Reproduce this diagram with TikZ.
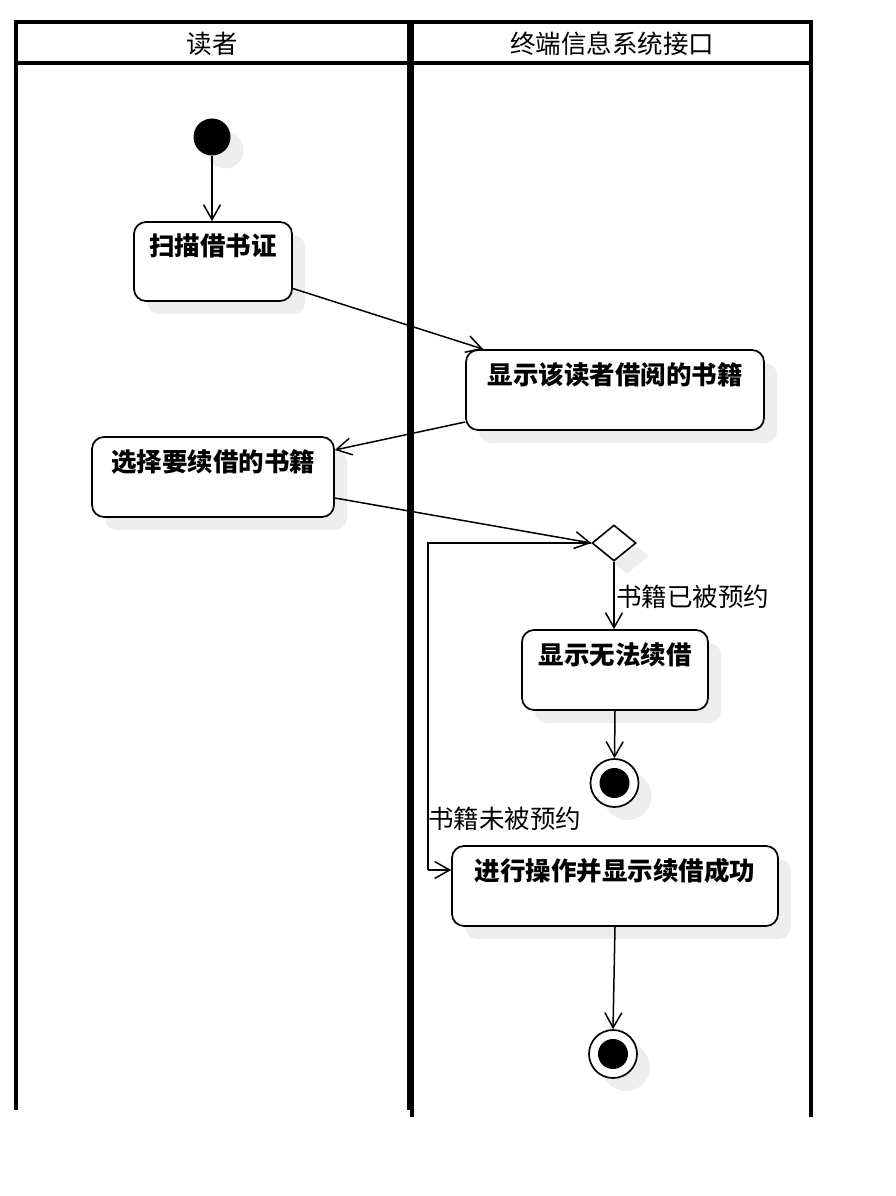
\documentclass[tikz,border=0pt]{standalone}
\usepackage{fontspec}
\setmainfont{Noto Sans CJK SC}
\usetikzlibrary{arrows.meta,shapes.geometric,shadows,calc}

\begin{document}
\begin{tikzpicture}[x=1pt,y=-1pt,
  lane/.style={line width=3.2pt},
  shade/.style={drop shadow={shadow xshift=13pt,shadow yshift=-13pt,fill=black!7,opacity=1}},
  act/.style={draw,rectangle,rounded corners=12pt,line width=1.7pt,fill=white,shade,inner sep=0pt},
  acttext/.style={font=\bfseries\fontsize{25.5}{28}\selectfont,anchor=north,yshift=-9.5pt},
  flow/.style={line width=1.5pt,-{Straight Barb[length=15pt,width=17pt,line width=1.5pt]}},
  plain/.style={line width=1.5pt},
  guard/.style={font=\fontsize{25.5}{28}\selectfont,inner sep=1pt},
  head/.style={font=\fontsize{25.5}{28}\selectfont},
  startnode/.style={circle,fill=black,minimum size=37pt,inner sep=0pt,drop shadow={shadow xshift=13pt,shadow yshift=-13pt,fill=black!7,opacity=1}},
  endnode/.style={circle,draw,line width=1.7pt,fill=white,minimum size=48pt,inner sep=0pt,shade},
  choice/.style={diamond,draw,line width=1.6pt,fill=white,minimum width=44pt,minimum height=36pt,inner sep=0pt,shape aspect=1.22,shade}]

\useasboundingbox (0,0) rectangle (896,1196);

% swimlanes
\draw[lane] (16,1110) -- (16,22) -- (409,22) -- (409,1110);
\draw[lane] (16,63) -- (409,63);
\draw[lane] (412,1117) -- (412,22) -- (811,22) -- (811,1117);
\draw[lane] (412,63) -- (811,63);
\node[head] (laneA) at (212,44) {读者};
\node[head] (laneB) at (612,44) {终端信息系统接口};

% activities
\node[startnode] (init) at (212,137) {};
\node[act,minimum width=158pt,minimum height=79pt] (scan) at (213,261.5) {};
\node[acttext] at (scan.north) {扫描借书证};
\node[act,minimum width=298pt,minimum height=80pt] (show) at (615,390) {};
\node[acttext] at (show.north) {显示该读者借阅的书籍};
\node[act,minimum width=242pt,minimum height=80pt] (pick) at (213,477) {};
\node[acttext] at (pick.north) {选择要续借的书籍};
\node[choice] (dia) at (614,543) {};
\node[act,minimum width=186pt,minimum height=80pt] (fail) at (615,670) {};
\node[acttext] at (fail.north) {显示无法续借};
\node[endnode] (fin1) at (614.5,783) {};
\fill (fin1) circle (15);
\node[act,minimum width=326pt,minimum height=80pt] (ok) at (615,886) {};
\node[acttext] at (ok.north) {进行操作并显示续借成功};
\node[endnode] (fin2) at (613,1054) {};
\fill (fin2) circle (15);

% transitions
\draw[flow] (init) -- (scan.north -| init);
\draw[flow] ($(scan.east)+(0,27)$) -- ($(show.north west)+(18,0)$);
\draw[flow] ($(show.west)+(0,32)$) -- ($(pick.east)+(0,-27)$);
\draw[flow] ($(pick.east)+(0,21)$) -- (dia.west);
\draw[flow] (dia.south) -- (fail.north -| dia.south);
\node[guard,anchor=west] (g1) at (615,597) {书籍已被预约};
\draw[flow] (fail.south) -- (fin1.north);
\coordinate (loopA) at (428,543);
\coordinate (loopB) at (428,870);
\draw[plain] (dia.west) -- (loopA) -- (loopB);
\draw[flow] (loopB) -- (loopB -| ok.west);
\node[guard,anchor=west] (g2) at (427,819) {书籍未被预约};
\draw[flow] (ok.south) -- (fin2.north);
\end{tikzpicture}
\end{document}
